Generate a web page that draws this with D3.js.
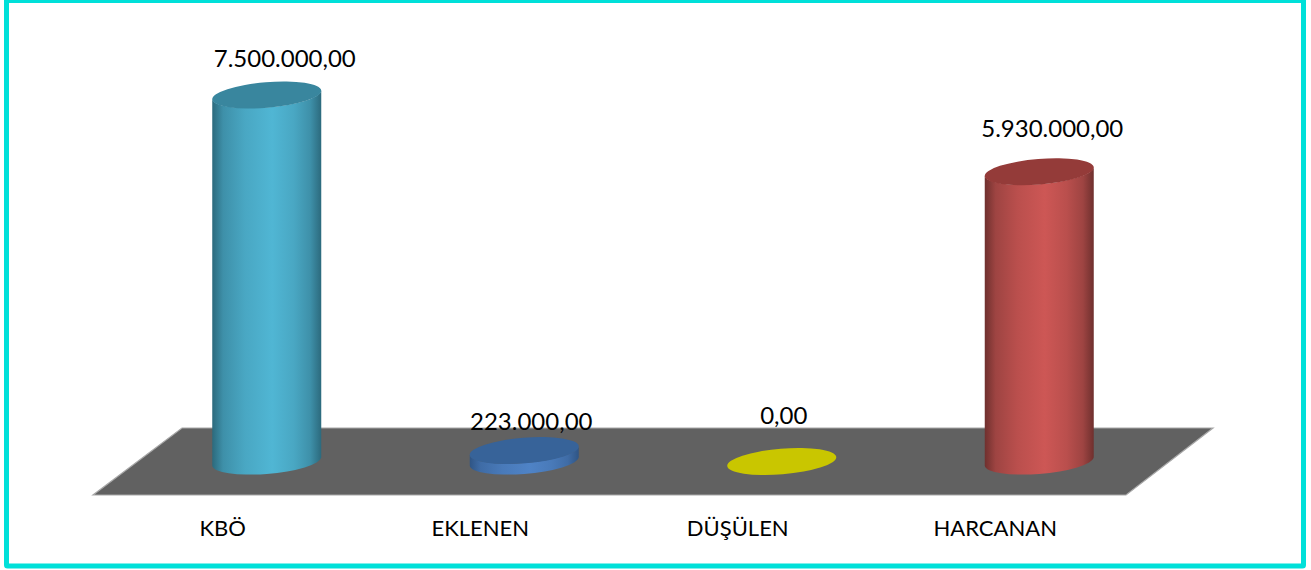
<!DOCTYPE html>
<html><head><meta charset="utf-8">
<script src="https://cdnjs.cloudflare.com/ajax/libs/d3/7.8.5/d3.min.js"></script>
<style>html,body{margin:0;padding:0;background:#fff;overflow:hidden}svg{display:block}text{font-family:Lato,"Open Sans",sans-serif;fill:#000}</style>
</head><body><svg id="c" width="1311" height="570"></svg>
<script>
const categories = ["KBÖ","EKLENEN","DÜŞÜLEN","HARCANAN"];
const values = [7500000,223000,0,5930000];
const valueLabels = ["7.500.000,00","223.000,00","0,00","5.930.000,00"];
const lightColors = ["#50b6d4","#4f83c6","#c9c600","#cd5755"];
const edgeColors = ["#2c6a7d","#2f5585","#8f8d00","#6f302e"];
const topColors = ["#39869e","#376399","#c9c600","#943b39"];
const labelDx = [18,7,2,13], labelDy = [-36,-29,-45.5,-43];

const svg = d3.select("#c");
svg.append("rect").attr("x",6.5).attr("y",1).attr("width",1297).attr("height",565).attr("rx",1)
  .attr("fill","#fff").attr("stroke","#00e0d9").attr("stroke-width",5);
// top band is thinner than the others and sits on the window edge
svg.append("rect").attr("x",4).attr("y",0).attr("width",1302).attr("height",3).attr("fill","#00e0d9");
svg.append("rect").attr("x",9).attr("y",3).attr("width",1292).attr("height",1).attr("fill","#fff");

const x = d3.scaleBand().domain(categories).range([138,1168]).padding(0);
const y = d3.scaleLinear().domain([0,7500000]).range([461.5,95]);
const A=54.7,B=12.8,rot=-4.67,tx=54.5,ty=4.2;

const floorPts=[[93,495],[1126,495],[1213,428],[182,428]];
svg.append("polygon").attr("points",floorPts.join(" ")).attr("fill","#616161")
  .attr("stroke","#a8a8a8").attr("stroke-width",1.2).attr("stroke-linejoin","miter");

const defs=svg.append("defs");
const stops=[[0,0],[.1,.5],[.3,.8],[.55,1],[.75,.8],[.9,.5],[1,0]];
categories.forEach((c,i)=>{
  const g=defs.append("linearGradient").attr("id","g"+i);
  const mix=d3.interpolateRgb(edgeColors[i],lightColors[i]);
  stops.forEach(s=>g.append("stop").attr("offset",s[0]).attr("stop-color",mix(s[1])));
});

const bars=svg.selectAll("g.bar").data(categories).join("g").attr("class","bar");
bars.each(function(c,i){
  const g=d3.select(this), cx=x(c)+x.bandwidth()/2, y0=y(0), y1=y(values[i]);
  if(values[i]>0){
    const d=`M${cx-tx},${y1+ty}L${cx-tx},${y0+ty}A${A},${B} ${rot} 0 0 ${cx+tx},${y0-ty}L${cx+tx},${y1-ty}A${A},${B} ${rot} 0 1 ${cx-tx},${y1+ty}Z`;
    g.append("path").attr("d",d).attr("fill",`url(#g${i})`);
  }
  g.append("ellipse").attr("cx",cx).attr("cy",y1).attr("rx",A).attr("ry",B)
    .attr("transform",`rotate(${rot} ${cx} ${y1})`).attr("fill",topColors[i]);
  g.append("text").attr("x",cx+labelDx[i]).attr("y",y1+labelDy[i]).attr("dy","0.35em")
    .attr("text-anchor","middle").style("font-size","24px").text(valueLabels[i]);
});

const axis=d3.axisBottom(d3.scaleBand().domain(categories).range([94,1124])).tickSize(0).tickPadding(0);
const ax=svg.append("g").attr("transform","translate(0,520)").call(axis);
ax.select(".domain").remove();
ax.selectAll("text").style("font-size","22px").style("font-family",'Lato,"Open Sans",sans-serif').attr("fill","#000");
</script></body></html>
